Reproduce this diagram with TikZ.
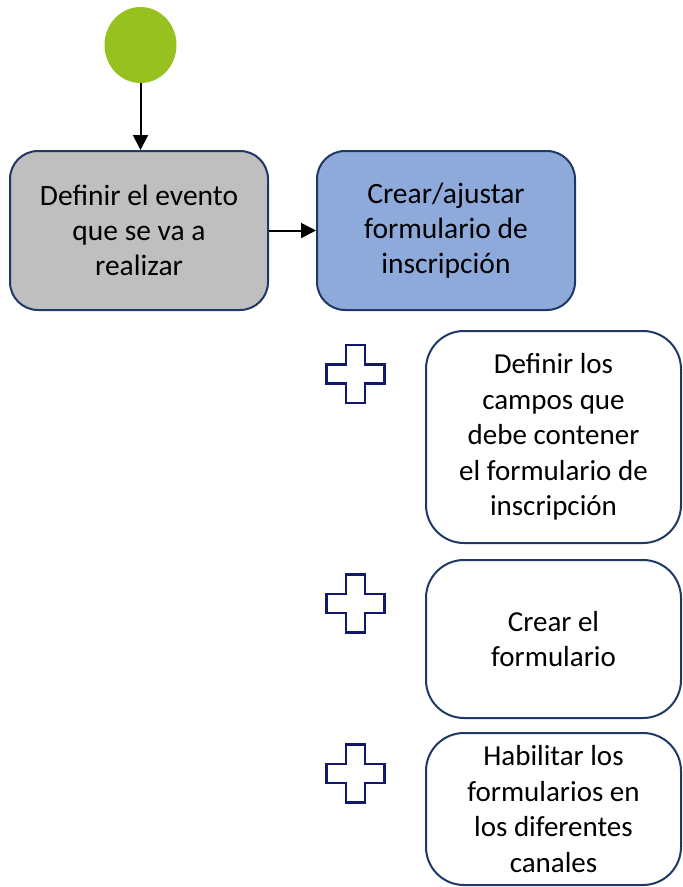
\documentclass[tikz,border=0pt]{standalone}
\usepackage{fontspec}
\setmainfont{Carlito}
\usetikzlibrary{arrows.meta,shapes.geometric}
\definecolor{navy}{RGB}{31,56,100}
\definecolor{crossnavy}{RGB}{18,24,110}
\definecolor{startgreen}{RGB}{151,193,31}
\definecolor{boxgray}{RGB}{191,191,191}
\definecolor{boxblue}{RGB}{142,170,219}
\begin{document}
\begin{tikzpicture}[x=1pt,y=1pt,
  task/.style={draw=navy, line width=2pt, rounded corners=28pt, align=center,
    font=\fontsize{29.5}{35}\selectfont, inner sep=0pt, minimum width=258pt, minimum height=159pt},
  sub/.style={draw=navy, line width=2pt, fill=white, rounded corners=38pt, align=center,
    font=\fontsize{29}{35.5}\selectfont, inner sep=0pt, minimum width=255pt},
  flow/.style={-{Triangle[length=15pt,width=15pt]}, line width=2pt, black},
  plusshape/.style={draw=crossnavy, line width=2.3pt, fill=white}]
\useasboundingbox (0,0) rectangle (683,-887);
\node[ellipse, fill=startgreen, minimum width=72pt, minimum height=76pt, inner sep=0pt] (start) at (140.5,-45) {};
\node[task, fill=boxgray] (b1) at (139,-230.5) {Definir el evento\\que se va a\\realizar};
\node[task, fill=boxblue] (b2) at (446,-230.5) {Crear/ajustar\\formulario de\\inscripción};
\draw[flow] (start.south) -- (start.south |- b1.north);
\draw[flow] (b1.east) -- (b2.west);
\node[sub, minimum height=212pt] (s1) at (553.5,-437) {Definir los\\campos que\\debe contener\\el formulario de\\inscripción};
\node[sub, minimum height=158pt] (s2) at (553.5,-639) {Crear el\\formulario};
\node[sub, minimum height=152pt] (s3) at (553.5,-809) {Habilitar los\\formularios en\\los diferentes\\canales};
\coordinate (c1) at (355.5,-374);
\coordinate (c2) at (355.5,-603.5);
\coordinate (c3) at (355.5,-773.5);
\foreach \c in {c1,c2,c3}{
  \draw[plusshape, shift={(\c)}] (-9.5,29) -- (9.5,29) -- (9.5,9.5) -- (29,9.5) -- (29,-9.5)
    -- (9.5,-9.5) -- (9.5,-29) -- (-9.5,-29) -- (-9.5,-9.5) -- (-29,-9.5) -- (-29,9.5)
    -- (-9.5,9.5) -- cycle;
}
\end{tikzpicture}
\end{document}
